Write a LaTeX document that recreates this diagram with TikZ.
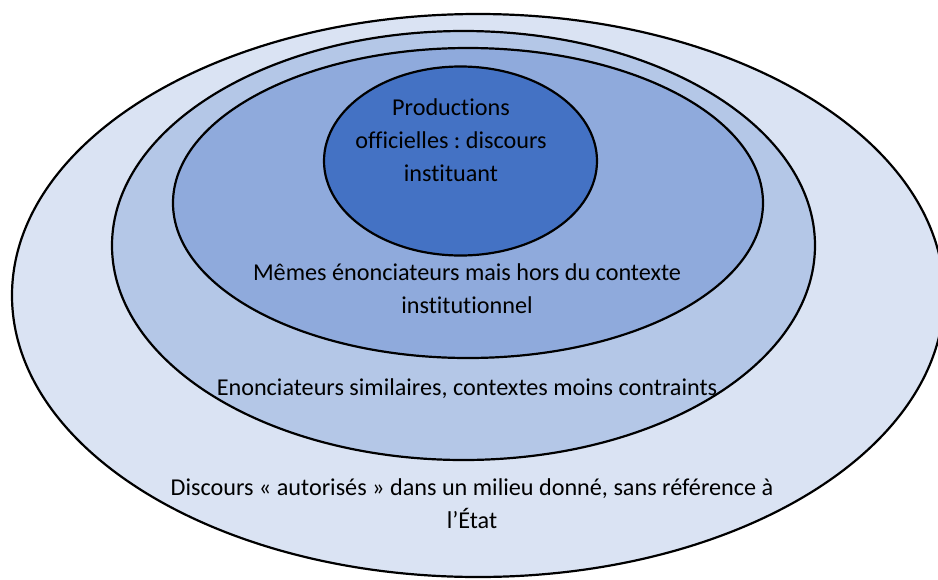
\documentclass[tikz,border=0pt]{standalone}
\usepackage{fontspec}
\setmainfont[Ligatures={NoCommon}]{Carlito}
\usetikzlibrary{shapes.geometric}
\frenchspacing
\definecolor{ringA}{HTML}{DAE3F3}
\definecolor{ringB}{HTML}{B4C7E7}
\definecolor{ringC}{HTML}{8FAADC}
\definecolor{ringD}{HTML}{4472C4}
\tikzset{
  ring/.style={ellipse, draw=black, line width=2.2pt, inner sep=0pt},
  lbl/.style={align=center, inner sep=0pt, font=\fontsize{24.2}{33}\selectfont\frenchspacing, text=black}
}
\begin{document}
\begin{tikzpicture}[x=1pt,y=-1pt]
\useasboundingbox (0,0) rectangle (938,579);
\clip (0,0) rectangle (938,579);
\node[ring, fill=ringA, minimum width=932pt, minimum height=563pt] (outer) at (478,295.5) {};
\node[ring, fill=ringB, minimum width=703pt, minimum height=429pt] (second) at (463.5,245.5) {};
\node[ring, fill=ringC, minimum width=590pt, minimum height=310pt] (third) at (468,203) {};
\node[ring, fill=ringD, minimum width=273pt, minimum height=189pt] (inner) at (460.5,161) {};
\node[lbl] (t1) at (451,140) {Productions\\officielles : discours\\instituant};
\node[lbl] (t2) at (467,288.5) {Mêmes énonciateurs mais hors du contexte\\institutionnel};
\node[lbl] (t3) at (467,389) {Enonciateurs similaires, contextes moins contraints};
\node[lbl] (t4) at (472,504) {Discours « autorisés » dans un milieu donné, sans référence à\\l’État};
\end{tikzpicture}
\end{document}
